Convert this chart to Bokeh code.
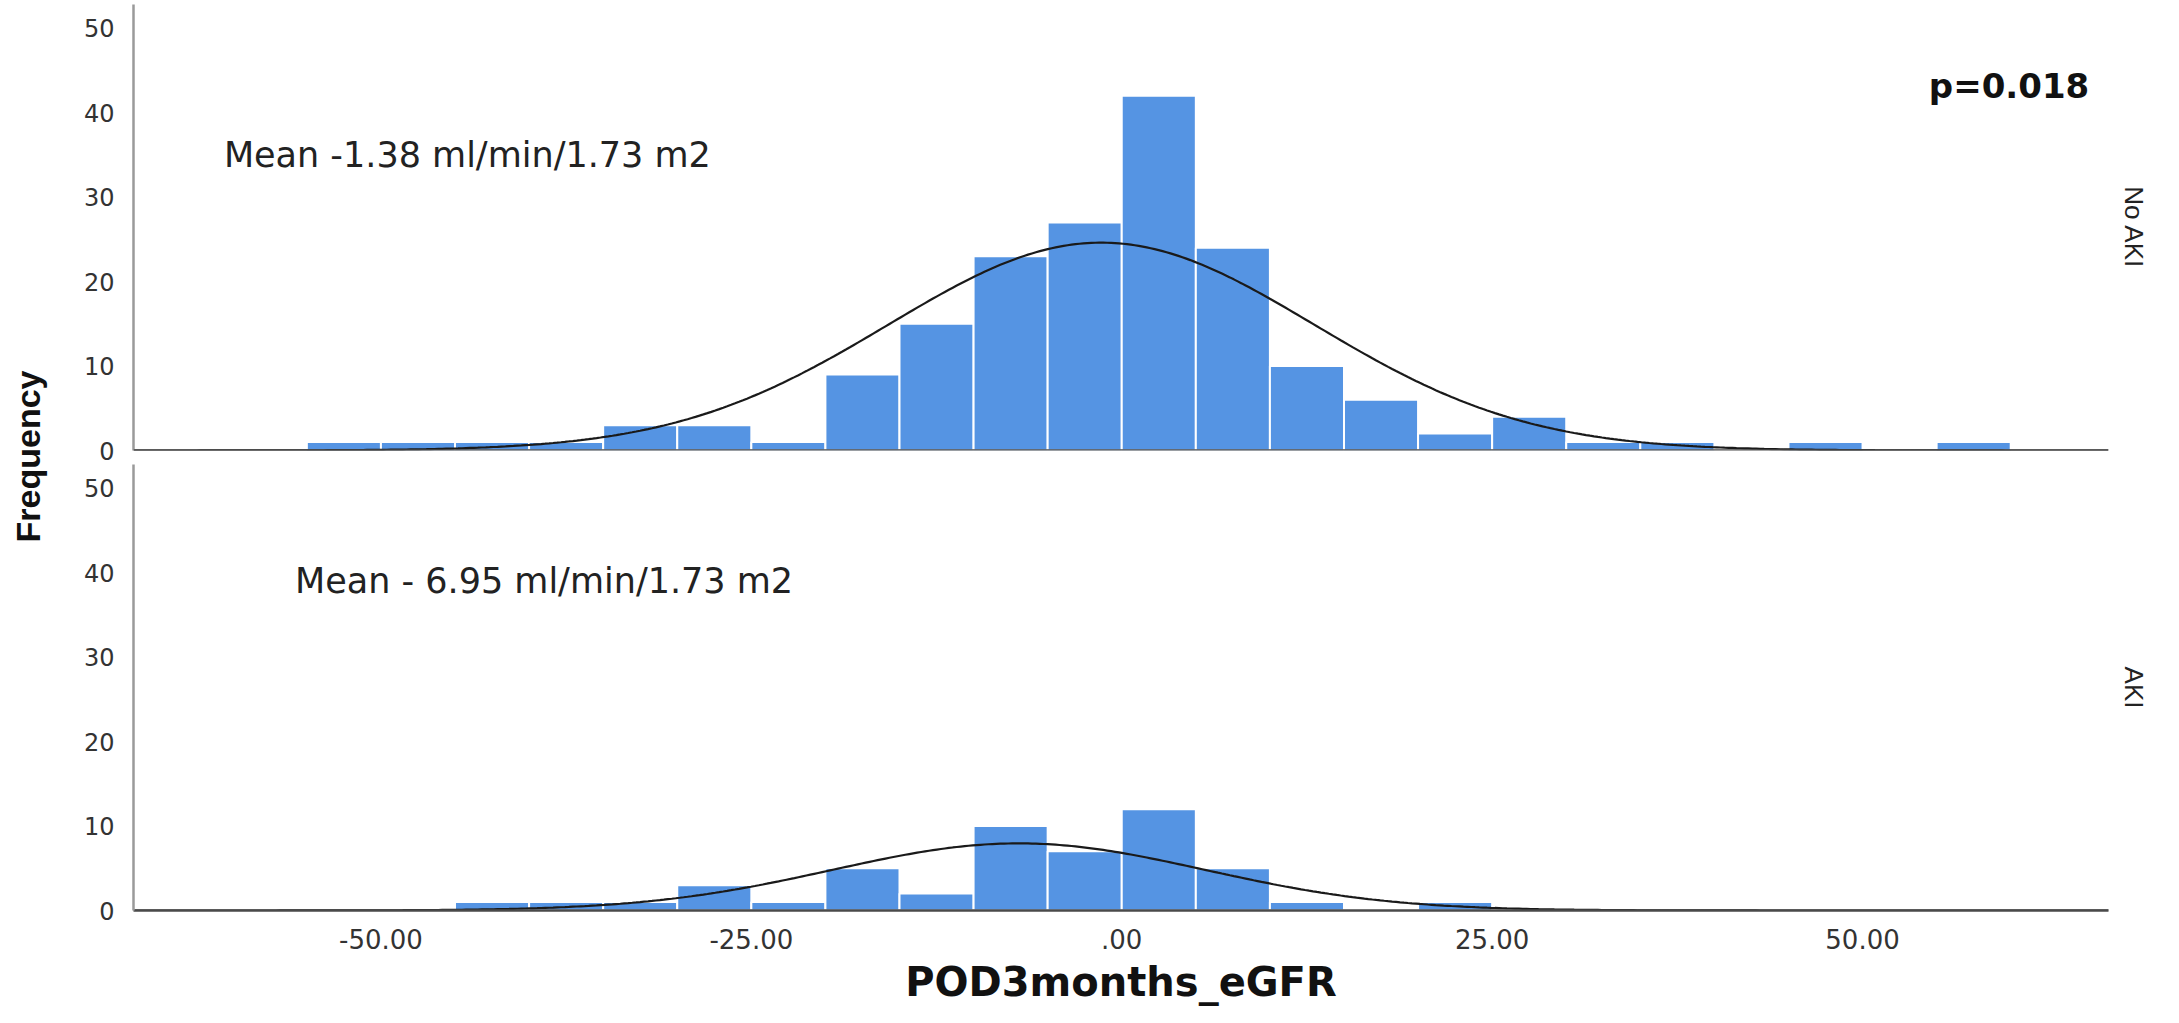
import numpy as np
from bokeh.plotting import figure
from bokeh.models import Range1d, FixedTicker, Span, Title
from bokeh.layouts import row, column
from bokeh.core.properties import value
from bokeh.embed import file_html
from bokeh.resources import INLINE

# ---------------- data ----------------
BIN_WIDTH = 5
no_aki_bin_left = [-55, -50, -45, -40, -35, -30, -25, -20, -15, -10, -5, 0,
                   5, 10, 15, 20, 25, 30, 35, 40, 45, 50, 55]
no_aki_counts = [1, 1, 1, 1, 3, 3, 1, 9, 15, 23, 27, 42,
                 24, 10, 6, 2, 4, 1, 1, 0, 1, 0, 1]
aki_bin_left = [-45, -40, -35, -30, -25, -20, -15, -10, -5, 0, 5, 10, 15, 20]
aki_counts = [1, 1, 1, 3, 1, 5, 2, 10, 7, 12, 5, 1, 0, 1]

no_aki_mean, no_aki_sd = -1.38, 14.35
aki_mean, aki_sd = -6.95, 12.55

x_ticks = [-50, -25, 0, 25, 50]
x_tick_labels = ["-50.00", "-25.00", ".00", "25.00", "50.00"]
y_ticks = [0, 10, 20, 30, 40, 50]

no_aki_note = "Mean  -1.38 ml/min/1.73 m2"
aki_note = "Mean - 6.95 ml/min/1.73 m2"
p_note = "p=0.018"
x_title = "POD3months_eGFR"
y_title = "Frequency"
panel_names = ["No AKI", "AKI"]

# ---------------- styling ----------------
BAR_COLOR = "#5594e3"
FONT = "DejaVu Sans"
X_MIN, X_MAX = -66.7, 66.6
Y_MAX = 52.8

xr = Range1d(X_MIN, X_MAX)


def normal_curve(mean, sd, counts):
    n = sum(counts)
    xs = np.linspace(X_MIN, X_MAX, 500)
    ys = n * BIN_WIDTH * np.exp(-0.5 * ((xs - mean) / sd) ** 2) / (sd * np.sqrt(2 * np.pi))
    return xs, ys


def make_panel(height, top_border, bottom_border, lefts, counts, mean, sd, name):
    p = figure(width=2100, height=height, x_range=xr, y_range=Range1d(0, Y_MAX),
               output_backend="svg", toolbar_location=None,
               min_border_left=73, min_border_right=52,
               min_border_top=top_border, min_border_bottom=bottom_border)
    p.xgrid.visible = False
    p.ygrid.visible = False
    p.outline_line_color = None
    p.background_fill_color = "white"

    rights = [l + BIN_WIDTH for l in lefts]
    p.quad(left=lefts, right=rights, bottom=0, top=counts,
           fill_color=BAR_COLOR, line_color="white", line_width=2)
    xs, ys = normal_curve(mean, sd, counts)
    p.line(xs, ys, line_color="#1a1a1a", line_width=2.2)

    yax = p.yaxis[0]
    yax.ticker = FixedTicker(ticks=y_ticks)
    yax.axis_line_color = "#9a9a9a"
    yax.axis_line_width = 2.5
    yax.major_tick_line_color = None
    yax.minor_tick_line_color = None
    yax.major_label_text_font = FONT
    yax.major_label_text_font_size = "24px"
    yax.major_label_text_color = "#333333"
    yax.major_label_standoff = 13

    t = Title(text=name, align="center", text_font="Liberation Sans",
              text_font_size="26px", text_font_style="normal",
              text_color="#222222", standoff=20)
    p.add_layout(t, "right")
    return p


top = make_panel(464, 4, 14, no_aki_bin_left, no_aki_counts,
                 no_aki_mean, no_aki_sd, panel_names[0])
top.xaxis.visible = False
top.add_layout(Span(location=0, dimension="width", line_color="#4a4a4a", line_width=2.5))
top.text(x=[-60.6], y=[35], text=[no_aki_note], text_font=value(FONT),
         text_font_size="35px", text_color="#222222",
         text_align="left", text_baseline="middle")
top.text(x=[65.3], y=[43.1], text=[p_note], text_font=value(FONT),
         text_font_size="34px", text_font_style="bold", text_color="#111111",
         text_align="right", text_baseline="middle")

bottom = make_panel(543, 0, 96, aki_bin_left, aki_counts,
                    aki_mean, aki_sd, panel_names[1])
bottom.text(x=[-55.8], y=[39], text=[aki_note], text_font=value(FONT),
            text_font_size="35px", text_color="#222222",
            text_align="left", text_baseline="middle")
xax = bottom.xaxis[0]
xax.ticker = FixedTicker(ticks=x_ticks)
xax.major_label_overrides = {t: l for t, l in zip(x_ticks, x_tick_labels)}
xax.axis_line_color = "#4a4a4a"
xax.axis_line_width = 2.5
xax.major_tick_line_color = None
xax.minor_tick_line_color = None
xax.major_label_text_font = FONT
xax.major_label_text_font_size = "26px"
xax.major_label_text_color = "#333333"
xax.major_label_standoff = 12
xax.axis_label = x_title
xax.axis_label_text_font = FONT
xax.axis_label_text_font_size = "40px"
xax.axis_label_text_font_style = "bold"
xax.axis_label_text_color = "#111111"
xax.axis_label_standoff = 7

TOTAL_H = 464 + 543
lab = figure(width=60, height=TOTAL_H, x_range=Range1d(0, 60), y_range=Range1d(0, TOTAL_H),
             output_backend="svg", toolbar_location=None,
             min_border_left=0, min_border_right=0, min_border_top=0, min_border_bottom=0)
lab.axis.visible = False
lab.grid.visible = False
lab.outline_line_color = None
lab.text(x=[27], y=[TOTAL_H - 456], text=[y_title], angle=np.pi / 2,
         text_font=value("Liberation Sans"), text_font_size="34px",
         text_font_style="bold", text_color="#111111",
         text_align="center", text_baseline="middle")

layout = row(lab, column(top, bottom))
open("out.html", "w").write(file_html(layout, INLINE))
